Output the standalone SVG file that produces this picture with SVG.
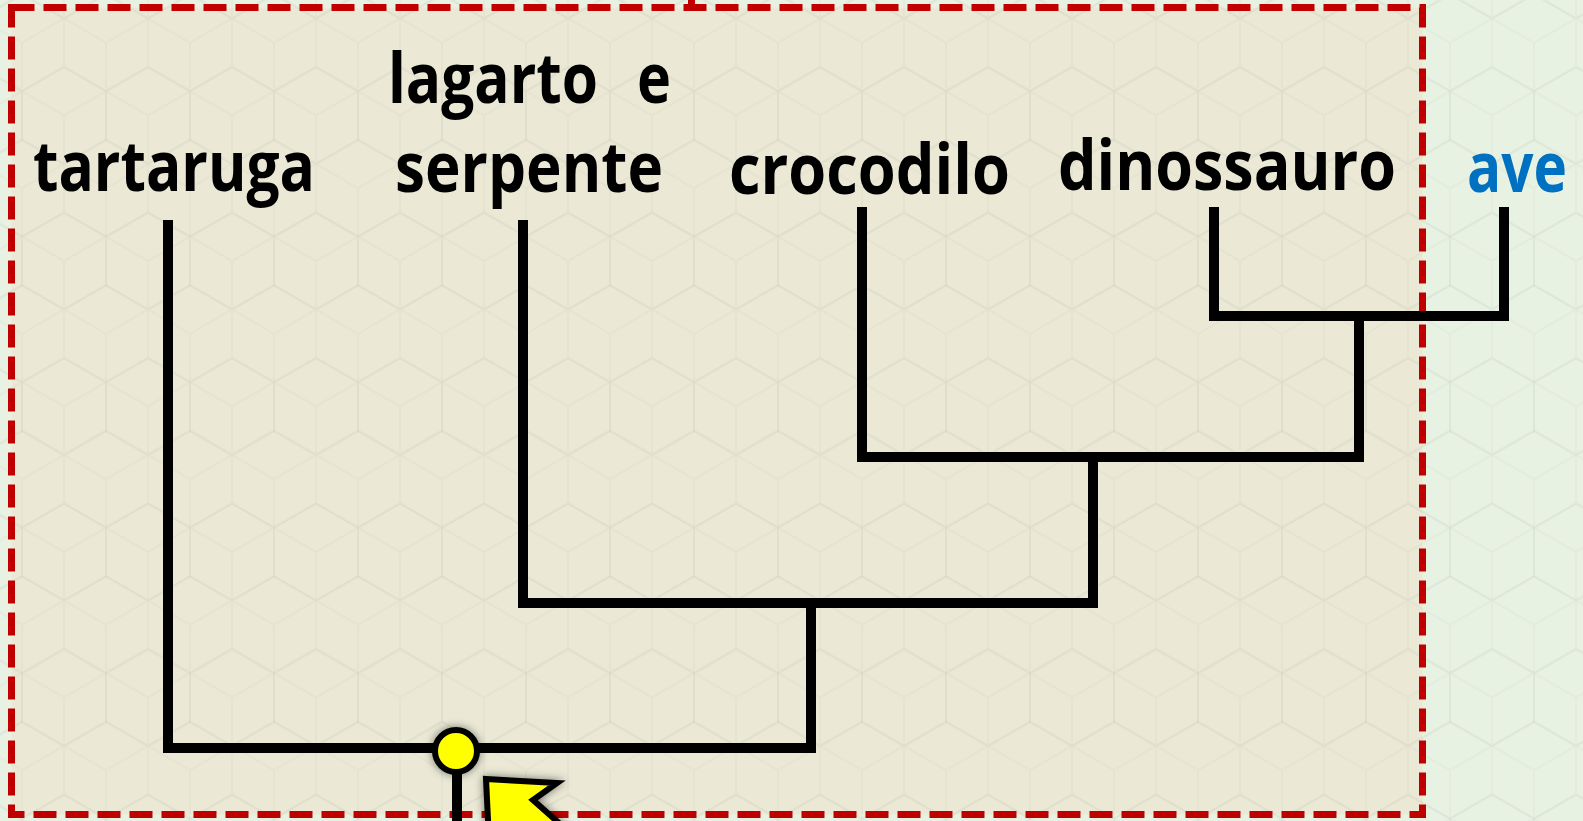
<svg xmlns="http://www.w3.org/2000/svg" width="1583" height="821" viewBox="0 0 1583 821">
<style>
.lbl{font-family:"Open Sans","Liberation Sans",sans-serif;font-weight:700;font-size:69px;fill:#000}
.blue{fill:#0070C0}
.br{fill:none;stroke:#000;stroke-width:10;stroke-linejoin:miter;stroke-linecap:butt}
.hex{fill:none;stroke:#000;stroke-opacity:0.022;stroke-width:2}
</style>
<defs>
<pattern id="cubes" patternUnits="userSpaceOnUse" x="-20" y="-30" width="84" height="145.5">
<path class="hex" d="M0,-48.5 L42,-24.25 L42,24.25 L0,48.5 L-42,24.25 L-42,-24.25 Z M0,0 L0,48.5 M0,0 L-42,-24.25 M0,0 L42,-24.25"/>
<path class="hex" transform="translate(84,0)" d="M0,-48.5 L42,-24.25 L42,24.25 L0,48.5 L-42,24.25 L-42,-24.25 Z M0,0 L0,48.5 M0,0 L-42,-24.25 M0,0 L42,-24.25"/>
<path class="hex" transform="translate(42,72.75)" d="M0,-48.5 L42,-24.25 L42,24.25 L0,48.5 L-42,24.25 L-42,-24.25 Z M0,0 L0,48.5 M0,0 L-42,-24.25 M0,0 L42,-24.25"/>
<path class="hex" transform="translate(0,145.5)" d="M0,-48.5 L42,-24.25 L42,24.25 L0,48.5 L-42,24.25 L-42,-24.25 Z M0,0 L0,48.5 M0,0 L-42,-24.25 M0,0 L42,-24.25"/>
<path class="hex" transform="translate(84,145.5)" d="M0,-48.5 L42,-24.25 L42,24.25 L0,48.5 L-42,24.25 L-42,-24.25 Z M0,0 L0,48.5 M0,0 L-42,-24.25 M0,0 L42,-24.25"/>
</pattern>
<filter id="glow" x="-50%" y="-50%" width="200%" height="200%">
<feGaussianBlur in="SourceAlpha" stdDeviation="5"/>
<feComponentTransfer><feFuncA type="linear" slope="0.5"/></feComponentTransfer>
<feMerge><feMergeNode/><feMergeNode in="SourceGraphic"/></feMerge>
</filter>
</defs>
<g id="background">
<rect x="0" y="0" width="1583" height="821" fill="#E8F2E3"/>
<rect x="11.5" y="7.5" width="1411" height="807" fill="#EBE9D6"/>
<rect x="0" y="0" width="1583" height="821" fill="url(#cubes)"/>
<rect x="688" y="0" width="7" height="8" fill="#C00000"/>
<rect x="11.5" y="7.5" width="1411" height="807" fill="none" stroke="#C00000" stroke-width="7" stroke-dasharray="23 9"/>
</g>
<g id="connectors">
<path class="br" d="M168,220 V748 H811 V603"/>
<path class="br" d="M523,220 V603 H1093 V457"/>
<path class="br" d="M862,207 V457 H1359 V316"/>
<path class="br" d="M1214,207 V316 H1504 V207"/>
<path class="br" d="M457,770 V821"/>
</g>
<g id="node-tartaruga"><text class="lbl" x="33" y="191" textLength="282" lengthAdjust="spacingAndGlyphs">tartaruga</text></g>
<g id="node-lagarto"><text class="lbl" y="103"><tspan x="388" textLength="210" lengthAdjust="spacingAndGlyphs">lagarto</tspan> <tspan x="637" textLength="34" lengthAdjust="spacingAndGlyphs">e</tspan></text>
<text class="lbl" x="395" y="192" textLength="268" lengthAdjust="spacingAndGlyphs">serpente</text></g>
<g id="node-crocodilo"><text class="lbl" x="729" y="194" textLength="281" lengthAdjust="spacingAndGlyphs">crocodilo</text></g>
<g id="node-dinossauro"><text class="lbl" x="1058" y="190" textLength="338" lengthAdjust="spacingAndGlyphs">dinossauro</text></g>
<g id="node-ave"><text class="lbl blue" x="1467" y="192" textLength="100" lengthAdjust="spacingAndGlyphs">ave</text></g>
<g id="marker-root">
<circle cx="456" cy="751" r="21" fill="#FFFF00" stroke="#000" stroke-width="6" filter="url(#glow)"/>
<polygon points="486,779 557,783 533,800 578,840 489,840" fill="#FFFF00" stroke="#000" stroke-width="6" stroke-linejoin="miter" filter="url(#glow)"/>
</g>
</svg>
